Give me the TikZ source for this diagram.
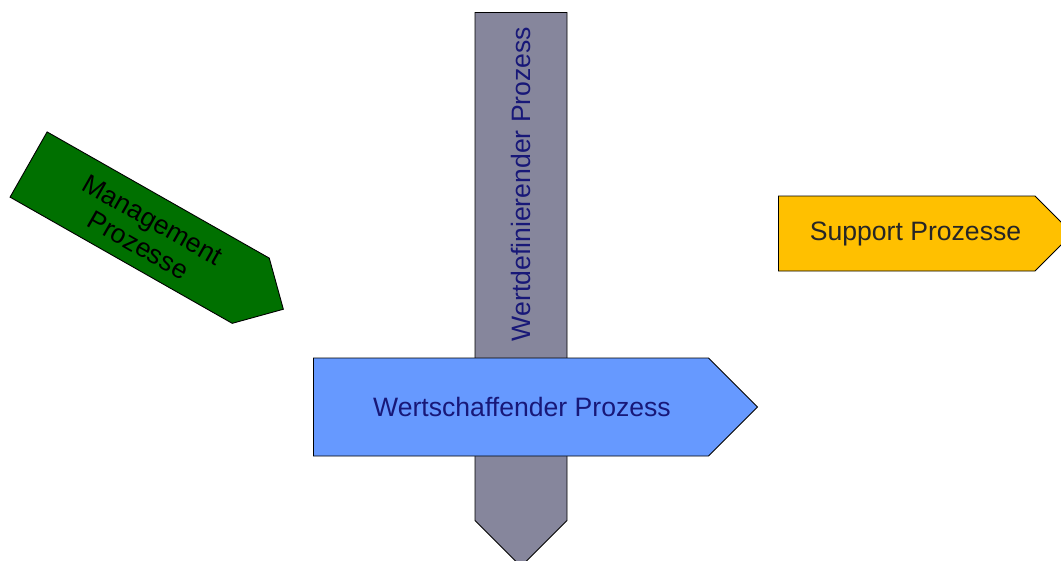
\documentclass[tikz,border=0pt]{standalone}
\usepackage{fontspec}
\setmainfont{Liberation Sans}
\usetikzlibrary{shapes.arrows,positioning}

\definecolor{mgmtgreen}{RGB}{0,112,0}
\definecolor{supportyellow}{RGB}{255,192,0}
\definecolor{wertblue}{RGB}{102,153,255}
\definecolor{wertgray}{RGB}{134,134,156}
\definecolor{textnavy}{RGB}{24,24,120}

\begin{document}
\begin{tikzpicture}[
    x=1pt, y=-1pt,
    prozess/.style={single arrow, draw=black, line width=0.9pt, single arrow head extend=0pt, single arrow tip angle=90, inner sep=0pt, anchor=tail},
    label/.style={inner sep=0pt, align=center, font=\fontsize{26.6}{29}\selectfont}
]
\useasboundingbox (0,0) rectangle (1061,560);

% Arrows (placed by their tails)
\node[prozess, fill=wertgray, shape border rotate=270, minimum width=92pt, minimum height=554pt] (wertdef) at (521,12) {};
\node[prozess, fill=wertblue, minimum width=98pt, minimum height=444pt] (wertschaff) at (313,407) {};
\node[prozess, fill=supportyellow, minimum width=75pt, minimum height=294pt] (support) at (778,233.5) {};
\node[prozess, fill=mgmtgreen, rotate=-29.6, minimum width=75pt, minimum height=293pt] (management) at (28.2,164.3) {};

% Labels
\node[label, text=textnavy, rotate=90] (wertdeftext) at ([yshift=-172pt]wertdef.tail) {Wertdefinierender Prozess};
\node[label, text=textnavy] (wertschafftext) at ([xshift=209pt]wertschaff.tail) {Wertschaffender Prozess};
\node[label, text=black!85] (supporttext) at ([xshift=137.5pt]support.tail) {Support Prozesse};
\node[label, text=black, rotate=-29.6] (managementtext) at ([xshift=117.2pt,yshift=-68.2pt]management.tail) {Management\\Prozesse};

\end{tikzpicture}
\end{document}
